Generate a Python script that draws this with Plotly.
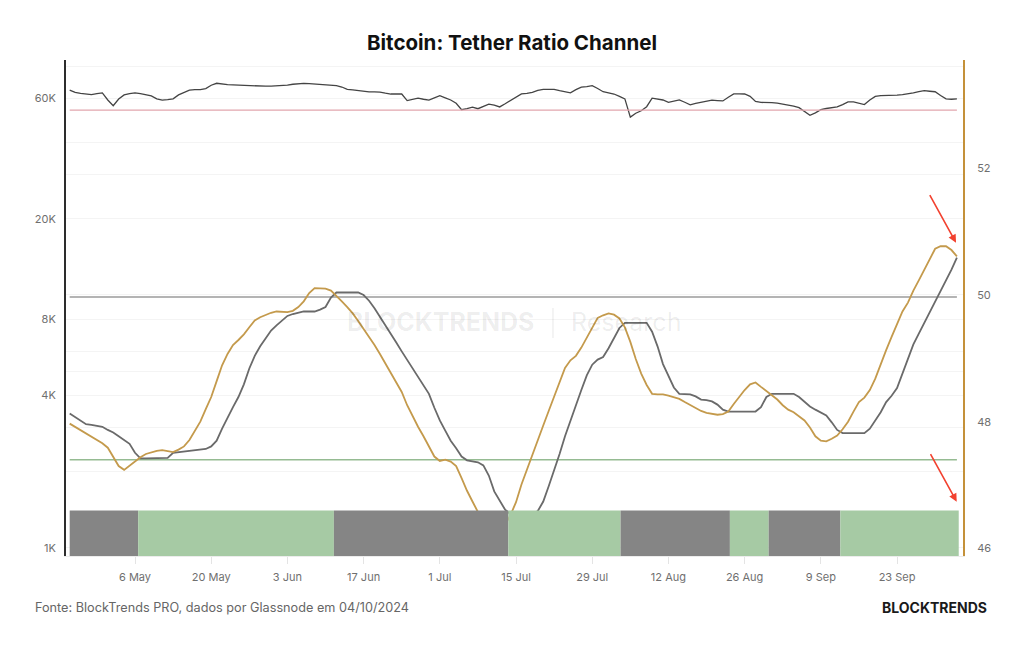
import plotly.graph_objects as go
import pandas as pd

# ---------------- data ----------------
dates = pd.date_range("2024-04-24", "2024-10-04", freq="D")

# BTC price (thousands of USD), left log axis
btc_price_k = [
    64.6, 63.2, 62.7, 62.3, 62.0, 62.5, 62.9, 59.0, 56.0, 59.5,
    61.8, 62.5, 62.9, 62.5, 62.0, 61.2, 59.6, 58.9, 59.2, 59.6,
    61.8, 63.0, 64.5, 64.8, 64.9, 65.5, 67.5, 68.7, 68.2, 67.9,
    67.7, 67.5, 67.3, 67.1, 67.0, 67.0, 66.9, 67.0, 67.1, 67.2,
    67.6, 68.1, 68.6, 68.7, 68.5, 68.3, 68.1, 67.9, 67.6, 67.2,
    66.4, 65.0, 64.7, 64.2, 63.8, 63.5, 63.5, 63.4, 62.8, 62.3,
    62.3, 62.3, 58.7, 59.4, 60.0, 59.4, 58.9, 60.1, 61.4, 60.2,
    59.0, 57.3, 54.0, 54.6, 55.3, 54.5, 55.5, 56.8, 56.3, 55.4,
    57.0, 58.7, 60.5, 62.4, 62.7, 63.3, 64.4, 65.0, 65.0, 65.0,
    64.2, 63.5, 63.0, 64.8, 66.3, 66.7, 67.2, 65.5, 63.6, 63.0,
    62.3, 61.0, 59.6, 50.5, 52.3, 53.5, 55.5, 60.0, 59.5, 59.0,
    57.8, 58.4, 59.1, 57.8, 56.5, 57.2, 57.8, 58.3, 58.9, 58.7,
    58.5, 60.5, 62.4, 62.4, 62.3, 61.0, 58.2, 57.7, 57.7, 57.6,
    57.3, 56.9, 56.4, 55.8, 55.0, 53.2, 51.3, 52.5, 54.0, 54.6,
    55.0, 55.4, 56.6, 58.0, 58.0, 57.2, 56.6, 59.0, 61.0, 61.4,
    61.4, 61.4, 61.7, 62.0, 62.4, 63.0, 63.7, 64.2, 63.9, 63.6,
    61.5, 59.6, 59.4, 59.6,
]

# Bitcoin:Tether ratio oscillator, fast (gold) and slow (gray), right axis
ratio_fast = [
    47.97, 47.92, 47.87, 47.82, 47.77, 47.72, 47.66, 47.59, 47.45, 47.30,
    47.24, 47.31, 47.38, 47.44, 47.49, 47.52, 47.54, 47.55, 47.53, 47.52,
    47.56, 47.61, 47.71, 47.85, 48.00, 48.20, 48.39, 48.64, 48.89, 49.07,
    49.21, 49.29, 49.38, 49.49, 49.60, 49.65, 49.69, 49.72, 49.74, 49.73,
    49.73, 49.75, 49.81, 49.90, 50.03, 50.11, 50.10, 50.10, 50.07, 49.99,
    49.90, 49.81, 49.71, 49.59, 49.47, 49.34, 49.21, 49.07, 48.92, 48.76,
    48.62, 48.47, 48.26, 48.08, 47.92, 47.77, 47.61, 47.45, 47.38, 47.40,
    47.37, 47.30, 47.11, 46.91, 46.74, 46.57, 46.41, 46.29, 46.21, 46.24,
    46.37, 46.53, 46.73, 47.01, 47.25, 47.47, 47.70, 47.94, 48.17, 48.40,
    48.65, 48.85, 48.97, 49.04, 49.17, 49.32, 49.49, 49.64, 49.68, 49.71,
    49.69, 49.63, 49.49, 49.26, 48.99, 48.76, 48.58, 48.44, 48.43, 48.43,
    48.41, 48.39, 48.36, 48.31, 48.26, 48.21, 48.17, 48.14, 48.12, 48.11,
    48.12, 48.16, 48.28, 48.40, 48.50, 48.59, 48.62, 48.55, 48.48, 48.42,
    48.35, 48.26, 48.19, 48.15, 48.09, 48.02, 47.91, 47.77, 47.70, 47.69,
    47.73, 47.78, 47.88, 48.00, 48.16, 48.31, 48.38, 48.50, 48.68, 48.92,
    49.13, 49.34, 49.54, 49.74, 49.88, 50.07, 50.23, 50.40, 50.57, 50.73,
    50.77, 50.77, 50.71, 50.61,
]
ratio_slow = [
    48.13, 48.07, 48.02, 47.96, 47.95, 47.94, 47.92, 47.87, 47.83, 47.77,
    47.71, 47.65, 47.51, 47.42, 47.42, 47.42, 47.42, 47.42, 47.43, 47.51,
    47.52, 47.52, 47.53, 47.54, 47.55, 47.57, 47.61, 47.70, 47.89, 48.07,
    48.23, 48.39, 48.59, 48.84, 49.04, 49.19, 49.31, 49.44, 49.52, 49.60,
    49.67, 49.70, 49.72, 49.74, 49.74, 49.74, 49.77, 49.81, 49.96, 50.04,
    50.04, 50.04, 50.04, 50.04, 50.00, 49.91, 49.79, 49.66, 49.53, 49.39,
    49.25, 49.11, 48.98, 48.84, 48.70, 48.57, 48.44, 48.22, 48.02, 47.86,
    47.70, 47.58, 47.45, 47.39, 47.38, 47.36, 47.31, 47.15, 46.90, 46.75,
    46.61, 46.54, 46.54, 46.54, 46.54, 46.54, 46.59, 46.74, 46.98, 47.23,
    47.49, 47.77, 48.02, 48.27, 48.50, 48.73, 48.90, 48.98, 49.02, 49.16,
    49.31, 49.48, 49.56, 49.56, 49.56, 49.56, 49.56, 49.42, 49.19, 48.91,
    48.73, 48.54, 48.44, 48.43, 48.43, 48.40, 48.35, 48.34, 48.32, 48.27,
    48.19, 48.16, 48.16, 48.16, 48.16, 48.16, 48.16, 48.23, 48.39, 48.44,
    48.44, 48.44, 48.44, 48.44, 48.39, 48.32, 48.24, 48.19, 48.14, 48.10,
    47.99, 47.87, 47.82, 47.82, 47.82, 47.82, 47.82, 47.89, 48.02, 48.15,
    48.31, 48.41, 48.53, 48.77, 49.01, 49.22, 49.39, 49.56, 49.72, 49.88,
    50.05, 50.22, 50.40, 50.59,
]

# reference levels (right axis)
channel_upper = 49.97
channel_lower = 47.4
channel_top = 52.92

# regime bands (gray = fast below slow, green = fast above slow)
regime_edges = [
    "2024-04-24 00:00", "2024-05-06 14:00", "2024-06-11 13:00",
    "2024-07-13 14:00", "2024-08-03 05:00", "2024-08-23 07:00",
    "2024-08-30 10:00", "2024-09-12 14:00", "2024-10-04 08:00",
]
regime_state = ["bear", "bull", "bear", "bull", "bear", "bull", "bear", "bull"]

x_tick_dates = pd.date_range("2024-05-06", periods=11, freq="14D")
x_tick_labels = ["6 May", "20 May", "3 Jun", "17 Jun", "1 Jul", "15 Jul",
                 "29 Jul", "12 Aug", "26 Aug", "9 Sep", "23 Sep"]
left_tick_vals = [1000, 4000, 8000, 20000, 60000]
left_tick_text = ["1K", "4K", "8K", "20K", "60K"]
right_tick_vals = [46, 48, 50, 52]

# ---------------- styles ----------------
FONT = "Inter"
TICK_COLOR = "#6f6f6f"
GOLD = "#c49a4c"
SLOW_GRAY = "#6a6a6a"
BAND_COLORS = {"bear": "#858585", "bull": "#a6caa4"}
Y2_RANGE = [45.88, 53.71]
BAND_TOP = 46.6

fig = go.Figure()

# price line (left log axis)
fig.add_trace(go.Scatter(
    x=dates, y=[v * 1000 for v in btc_price_k], mode="lines",
    line=dict(color="#444444", width=1.3), yaxis="y", hoverinfo="skip"))

# reference levels
for lvl, col, w in [(channel_top, "#e2a6ae", 1.2),
                    (channel_upper, "#b4b4b4", 2),
                    (channel_lower, "#95bb92", 1.5)]:
    fig.add_trace(go.Scatter(
        x=[dates[0], dates[-1]], y=[lvl, lvl], mode="lines",
        line=dict(color=col, width=w), yaxis="y2", hoverinfo="skip"))

# oscillator lines
fig.add_trace(go.Scatter(x=dates, y=ratio_slow, mode="lines",
                         line=dict(color=SLOW_GRAY, width=1.8), yaxis="y2"))
fig.add_trace(go.Scatter(x=dates, y=ratio_fast, mode="lines",
                         line=dict(color=GOLD, width=1.8), yaxis="y2"))

# regime bands (drawn after the lines so they cover them)
for i, state in enumerate(regime_state):
    s, e = regime_edges[i], regime_edges[i + 1]
    fig.add_trace(go.Scatter(
        x=[s, e, e, s, s],
        y=[Y2_RANGE[0], Y2_RANGE[0], BAND_TOP, BAND_TOP, Y2_RANGE[0]],
        mode="lines", line=dict(width=0), fill="toself",
        fillcolor=BAND_COLORS[state], yaxis="y2", hoverinfo="skip"))

fig.update_layout(
    width=1024, height=645,
    margin=dict(l=66, r=61, t=60, b=89),
    paper_bgcolor="white", plot_bgcolor="white",
    showlegend=False,
    title=dict(text="<b>Bitcoin: Tether Ratio Channel</b>", x=0.5, xanchor="center",
               y=1 - 43 / 645, yanchor="middle",
               font=dict(family=FONT, size=20.5, color="#111111")),
    xaxis=dict(
        type="date", range=["2024-04-23 07:45", "2024-10-05 02:50"],
        tickvals=x_tick_dates, ticktext=x_tick_labels,
        showgrid=False, zeroline=False,
        ticks="outside", ticklen=7, tickcolor="#e4e4e4", ticklabelstandoff=4,
        tickfont=dict(family=FONT, size=11, color=TICK_COLOR),
        showline=True, linecolor="#ececec", linewidth=1,
    ),
    yaxis=dict(
        type="log", range=[2.968, 4.929],
        tickvals=left_tick_vals, ticktext=left_tick_text,
        showline=True, linecolor="#2d2d2d", linewidth=2,
        showgrid=True, gridcolor="#f4f4f4", zeroline=False,
        ticks="", ticklabelstandoff=6,
        tickfont=dict(family=FONT, size=11, color=TICK_COLOR),
        minor=dict(tickvals=[2000, 3000, 5000, 6000, 10000, 30000, 40000, 80000],
                   showgrid=True, gridcolor="#f4f4f4", ticks=""),
    ),
    yaxis2=dict(
        overlaying="y", side="right", range=Y2_RANGE,
        tickvals=right_tick_vals,
        showline=True, linecolor="#c4913a", linewidth=2,
        showgrid=False, zeroline=False, ticks="", ticklabelstandoff=10,
        tickfont=dict(family=FONT, size=11, color=TICK_COLOR),
    ),
)

# watermark
fig.add_annotation(xref="paper", yref="paper", x=(536 - 66) / 897, y=(556 - 322) / 496,
                   text="<b>BLOCKTRENDS</b>", showarrow=False, xanchor="right",
                   font=dict(family=FONT, size=25, color="rgba(0,0,0,0.075)"))
fig.add_annotation(xref="paper", yref="paper", x=(569 - 66) / 897, y=(556 - 322) / 496,
                   text="Research", showarrow=False, xanchor="left",
                   font=dict(family=FONT, size=25, color="rgba(0,0,0,0.075)"))
fig.add_shape(type="line", xref="paper", yref="paper",
              x0=(553 - 66) / 897, x1=(553 - 66) / 897,
              y0=(556 - 338) / 496, y1=(556 - 308) / 496,
              line=dict(color="rgba(0,0,0,0.08)", width=1.2))

# red arrows
for hx, hy in [(956, 242.7), (956.7, 501.7)]:
    fig.add_annotation(xref="paper", yref="paper", x=(hx - 66) / 897, y=(556 - hy) / 496,
                       text="", showarrow=True, ax=-27, ay=-49,
                       arrowcolor="#f2412f", arrowwidth=1.6, arrowhead=2,
                       arrowsize=1, standoff=0)

# footer
fig.add_annotation(xref="paper", yref="paper", x=(33 - 66) / 897,
                   y=(556 - 607) / 496, xanchor="left", yanchor="middle",
                   text="Fonte: BlockTrends PRO, dados por Glassnode em 04/10/2024",
                   showarrow=False, font=dict(family=FONT, size=12.7, color="#666666"))
fig.add_annotation(xref="paper", yref="paper", x=(989 - 66) / 897,
                   y=(556 - 607) / 496, xanchor="right", yanchor="middle",
                   text="<b>BLOCKTRENDS</b>", showarrow=False,
                   font=dict(family=FONT, size=14, color="#1a1a1a"))

fig.write_html("out.html")
